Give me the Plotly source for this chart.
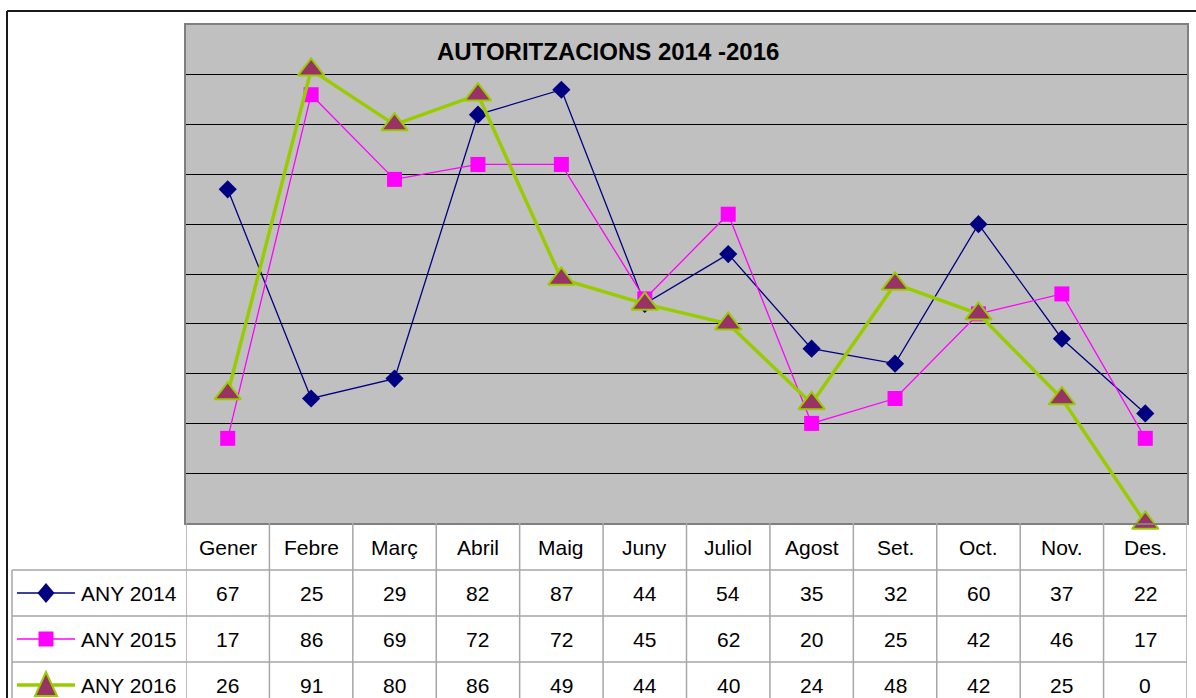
import plotly.graph_objects as go

# Monthly authorisations per year
months = ["Gener", "Febre", "Març", "Abril", "Maig", "Juny",
          "Juliol", "Agost", "Set.", "Oct.", "Nov.", "Des."]
any_2014 = [67, 25, 29, 82, 87, 44, 54, 35, 32, 60, 37, 22]
any_2015 = [17, 86, 69, 72, 72, 45, 62, 20, 25, 42, 46, 17]
any_2016 = [26, 91, 80, 86, 49, 44, 40, 24, 48, 42, 25, 0]
series_names = ["ANY 2014", "ANY 2015", "ANY 2016"]
title_text = "AUTORITZACIONS 2014 -2016"

W, H = 1196, 698
FONT = "Liberation Sans, Arial, sans-serif"


def px(x):
    return x / W


def py(y):
    return 1 - y / H


# plot-area / table geometry (pixels)
PL, PR, PT, PB = 186, 1187, 25, 523
ROW_EDGES = [PB + 1, 570, 616, 662, 708]
LEG_LEFT = 12

styles = [
    dict(line=dict(color="#000080", width=1.3),
         marker=dict(symbol="diamond", size=14, color="#000080",
                     line=dict(width=0))),
    dict(line=dict(color="#FF00FF", width=1.3),
         marker=dict(symbol="square", size=15, color="#FF00FF",
                     line=dict(width=0))),
    dict(line=dict(color="#99CC00", width=3.5),
         marker=dict(symbol="triangle-up", size=23, color="#993366",
                     line=dict(color="#99CC00", width=2))),
]
values = [any_2014, any_2015, any_2016]
xs = list(range(len(months)))

fig = go.Figure()
for name, vals, st in zip(series_names, values, styles):
    fig.add_trace(go.Scatter(
        x=xs, y=vals, mode="lines+markers", name=name,
        line=st["line"], marker=st["marker"], cliponaxis=False,
        hoverinfo="x+y+name",
    ))

shapes = []
annotations = []
grid_col = "#A6A6A6"


def poly(points):
    # closed SVG path in paper coordinates from pixel points
    segs = ["{}{:.5f},{:.5f}".format("M" if k == 0 else "L", px(x), py(y))
            for k, (x, y) in enumerate(points)]
    return " ".join(segs) + " Z"


# table horizontal rules
for y in ROW_EDGES[1:4]:
    shapes.append(dict(type="line", xref="paper", yref="paper",
                       x0=px(LEG_LEFT), x1=px(PR), y0=py(y), y1=py(y),
                       line=dict(color=grid_col, width=1.5)))
# table vertical rules (column borders follow the category axis)
for i in range(len(months) + 1):
    shapes.append(dict(type="line", xref="x", yref="paper",
                       x0=i - 0.5, x1=i - 0.5, y0=py(PB), y1=0,
                       line=dict(color=grid_col, width=1.5)))
# left border of the legend column
shapes.append(dict(type="line", xref="paper", yref="paper",
                   x0=px(LEG_LEFT), x1=px(LEG_LEFT), y0=py(570), y1=0,
                   line=dict(color=grid_col, width=1.5)))
# outer chart frame
shapes.append(dict(type="line", xref="paper", yref="paper",
                   x0=px(7), x1=1, y0=py(11), y1=py(11),
                   line=dict(color="#1A1A1A", width=2)))
shapes.append(dict(type="line", xref="paper", yref="paper",
                   x0=px(7), x1=px(7), y0=py(11), y1=0,
                   line=dict(color="#1A1A1A", width=2)))

# legend keys in the first table column
KX0, KXC, KX1 = 17, 46, 75
for r, st in enumerate(styles):
    yc = (ROW_EDGES[r + 1] + ROW_EDGES[r + 2]) / 2
    shapes.append(dict(type="line", xref="paper", yref="paper",
                       x0=px(KX0), x1=px(KX1), y0=py(yc), y1=py(yc),
                       line=dict(color=st["line"]["color"],
                                 width=st["line"]["width"])))
    sym = st["marker"]["symbol"]
    if sym == "diamond":
        pts = [(KXC, yc - 10), (KXC + 8.5, yc), (KXC, yc + 10),
               (KXC - 8.5, yc)]
        outline = dict(width=0)
    elif sym == "square":
        pts = [(KXC - 7.5, yc - 7.5), (KXC + 7.5, yc - 7.5),
               (KXC + 7.5, yc + 7.5), (KXC - 7.5, yc + 7.5)]
        outline = dict(width=0)
    else:
        pts = [(KXC, yc - 13), (KXC + 11, yc + 11), (KXC - 11, yc + 11)]
        outline = dict(color=st["marker"]["line"]["color"], width=2)
    shapes.append(dict(type="path", xref="paper", yref="paper",
                       path=poly(pts), fillcolor=st["marker"]["color"],
                       line=outline))

tfont = dict(family=FONT, size=21, color="#000000")
# month header
hy = (ROW_EDGES[0] + ROW_EDGES[1]) / 2
for i, m in enumerate(months):
    annotations.append(dict(x=i, y=py(hy), xref="x", yref="paper",
                            text=m, showarrow=False, font=tfont,
                            xanchor="center", yanchor="middle"))
# value rows and series labels
for r, (name, vals) in enumerate(zip(series_names, values)):
    yc = (ROW_EDGES[r + 1] + ROW_EDGES[r + 2]) / 2
    annotations.append(dict(x=px(79), y=py(yc), xref="paper", yref="paper",
                            text=name, showarrow=False, font=tfont,
                            xanchor="left", yanchor="middle"))
    for i, v in enumerate(vals):
        annotations.append(dict(x=i, y=py(yc), xref="x", yref="paper",
                                text=str(v), showarrow=False, font=tfont,
                                xanchor="center", yanchor="middle"))

# chart title inside the plot area
annotations.append(dict(x=px(608), y=py(52), xref="paper", yref="paper",
                        text="<b>" + title_text + "</b>", showarrow=False,
                        font=dict(family=FONT, size=24, color="#000000"),
                        xanchor="center", yanchor="middle"))

fig.update_layout(
    width=W, height=H,
    margin=dict(l=0, r=0, t=0, b=0),
    paper_bgcolor="#FFFFFF",
    plot_bgcolor="#C0C0C0",
    showlegend=False,
    xaxis=dict(domain=[px(PL), px(PR)], range=[-0.5, len(months) - 0.5],
               showgrid=False, zeroline=False, showticklabels=False,
               ticks="", showline=True, linecolor="#808080", linewidth=2,
               mirror=True, fixedrange=True),
    yaxis=dict(domain=[py(PB), py(PT)], range=[0, 100], dtick=10,
               showgrid=True, gridcolor="#000000", gridwidth=1,
               zeroline=False, showticklabels=False, ticks="",
               showline=True, linecolor="#808080", linewidth=2,
               mirror=True, fixedrange=True),
    shapes=shapes,
    annotations=annotations,
)

fig.write_html("out.html")
